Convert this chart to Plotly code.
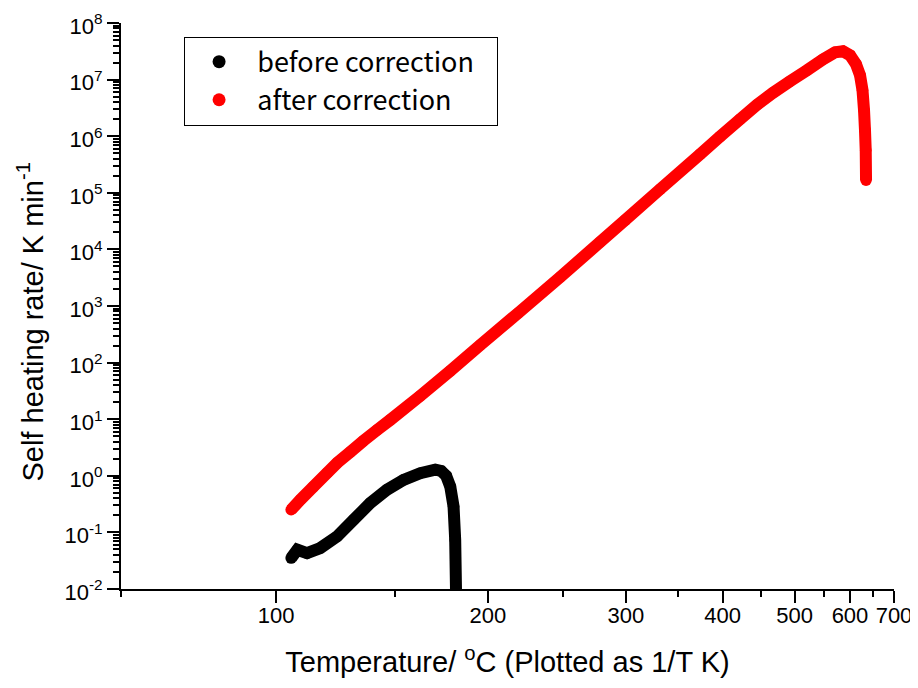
import plotly.graph_objects as go

# ---- data ----
before_T = [105.7, 108.1, 111.9, 117.2, 124.2, 131.3, 138.7, 146.4, 154.4, 162.7,
            170.5, 173.6, 176.3, 178.5, 180.3, 181.2, 181.8]
before_rate = [0.0352, 0.0494, 0.0429, 0.0529, 0.0848, 0.167, 0.330, 0.566, 0.849, 1.11,
               1.28, 1.22, 1.0, 0.647, 0.287, 0.0741, 0.005]

after_T = [105.7, 109.3, 114.4, 120.1, 124.3, 129.9, 135.6, 141.9, 148.0, 162.7,
           178.5, 195.5, 218.9, 247.7, 278.3, 299.5, 331.9, 373.7, 396.8, 421.7,
           444.4, 467.1, 492.8, 520.4, 548.4, 570.6, 586.0, 600.1, 612.5, 621.0,
           626.3, 629.6, 631.7, 633.3, 634.0]
after_rate = [0.251, 0.377, 0.638, 1.13, 1.70, 2.65, 4.14, 6.48, 9.73, 25.8,
              71.3, 205, 752, 3250, 13490, 32960, 116100, 481600, 9.85e5, 2.0e6,
              3.60e6, 5.86e6, 9.35e6, 1.46e7, 2.29e7, 3.04e7, 3.17e7, 2.69e7, 1.87e7, 1.19e7,
              6.49e6, 2.88e6, 1.28e6, 5.66e5, 1.67e5]

x_major_labels = [100, 200, 300, 400, 500, 600, 700]
x_minor_labels = [50, 150, 250, 350, 450, 550, 650]
y_exponents = [-2, -1, 0, 1, 2, 3, 4, 5, 6, 7, 8]


def inv_t(tc):
    return 1.0 / (tc + 273.15)


fig = go.Figure()

series = [
    ("before correction", before_T, before_rate, "#000000"),
    ("after correction", after_T, after_rate, "#ff0000"),
]
for name, t, r, col in series:
    fig.add_trace(go.Scatter(
        x=[inv_t(v) for v in t], y=r, mode="lines+markers",
        line=dict(color=col, width=12, simplify=False),
        marker=dict(color=col, size=11.5, line=dict(width=0)),
        showlegend=False, hoverinfo="skip",
    ))
for name, t, r, col in series:
    fig.add_trace(go.Scatter(
        x=[None], y=[None], mode="markers",
        name="\u00a0\u00a0\u00a0" + name + "\u00a0\u00a0\u00a0",
        marker=dict(color=col, size=13),
    ))

y_minor = [m * 10.0 ** e for e in y_exponents[:-1] for m in range(2, 10)]

# the page has an 8px body margin, so the figure is laid out 8px up/left
fig.update_layout(
    width=918, height=688,
    margin=dict(l=113, r=32, t=15, b=107, autoexpand=False),
    paper_bgcolor="white", plot_bgcolor="white",
    font=dict(family="Arial", size=22, color="black"),
    showlegend=True,
    legend=dict(
        x=0.0816, y=0.976, xanchor="left", yanchor="top",
        bordercolor="black", borderwidth=1, bgcolor="white",
        font=dict(family="Noto Sans CJK JP", size=27),
        indentation=14,
    ),
    xaxis=dict(
        range=[inv_t(50), inv_t(700)],
        automargin=False,
        ticklabeloverflow="allow",
        tickmode="array",
        tickvals=[inv_t(v) for v in x_major_labels],
        ticktext=[str(v) for v in x_major_labels],
        tickfont=dict(family="Arial", size=22),
        ticklabelstandoff=-6,
        ticks="outside", ticklen=12, tickwidth=2, tickcolor="black",
        minor=dict(tickmode="array", tickvals=[inv_t(v) for v in x_minor_labels],
                   ticks="outside", ticklen=6, tickwidth=2, tickcolor="black"),
        showline=True, linecolor="black", linewidth=2,
        showgrid=False, zeroline=False,
        title=dict(text="Temperature/ <sup>o</sup>C (Plotted as 1/T K)",
                   font=dict(family="Arial", size=29), standoff=24),
    ),
    yaxis=dict(
        type="log", range=[-2, 8],
        automargin=False,
        ticklabeloverflow="allow",
        ticklabelshift=3,
        tickmode="array",
        tickvals=[10.0 ** e for e in y_exponents],
        ticktext=["10<sup>%d</sup>" % e for e in y_exponents],
        tickfont=dict(family="Arial", size=22),
        ticks="outside", ticklen=12, tickwidth=2, tickcolor="black",
        minor=dict(tickmode="array", tickvals=y_minor,
                   ticks="outside", ticklen=6, tickwidth=1.5, tickcolor="black"),
        showline=True, linecolor="black", linewidth=2,
        showgrid=False, zeroline=False,
    ),
    annotations=[dict(
        text="Self heating rate/ K min<sup>-1</sup>",
        xref="paper", yref="paper", x=-0.1177, y=0.4726,
        xanchor="center", yanchor="middle", textangle=-90, showarrow=False,
        font=dict(family="Arial", size=29, color="black"),
    )],
)

fig.write_html("out.html")
